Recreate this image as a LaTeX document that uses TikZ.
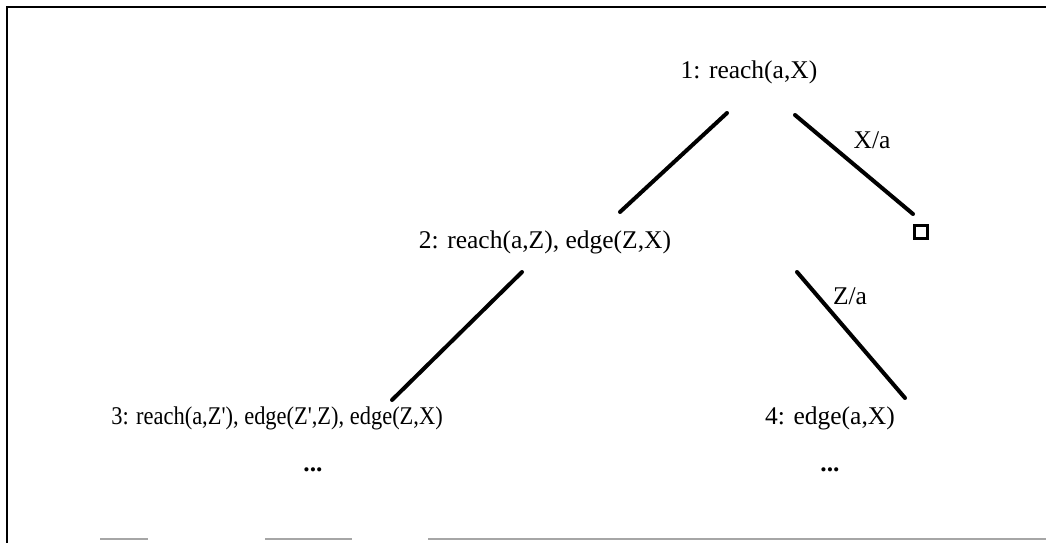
\documentclass[tikz,border=0pt]{standalone}
\usepackage{fontspec}
\setmainfont{Liberation Serif}
\begin{document}
\begin{tikzpicture}[x=1pt,y=-1pt,
  lbl/.style={inner sep=0pt,anchor=center,font=\fontsize{25.5}{30}\selectfont},
  branch/.style={line width=4pt,line cap=round},
  frame/.style={line width=2.8pt}]
\useasboundingbox (0,0) rectangle (1046,543);
% frame
\coordinate (ftr) at (1046,7);
\coordinate (ftl) at (7,7);
\coordinate (fbl) at (7,543);
\draw[frame] (ftr) -- (ftl) -- (fbl);
\coordinate (b1) at (100,539); \coordinate (b2) at (148,539);
\coordinate (b3) at (265,539); \coordinate (b4) at (352,539);
\coordinate (b5) at (428,539); \coordinate (b6) at (1046,539);
\draw[gray!70,line width=1.5pt] (b1) -- (b2) (b3) -- (b4) (b5) -- (b6);
% nodes
\node[lbl] (n1) at (749,72) {1: reach(a,X)};
\node[lbl] (n2) at (545,242) {2: reach(a,Z), edge(Z,X)};
\node[lbl] (n3) at (277,418) {\scalebox{0.88}[1]{3: reach(a,Z\textquotesingle), edge(Z\textquotesingle,Z), edge(Z,X)}};
\node[lbl] (n4) at (830,418) {4: edge(a,X)};
\node[lbl] (d3) at (313,470) {\textbf{...}};
\node[lbl] (d4) at (830,470) {\textbf{...}};
\node[draw,line width=3pt,minimum size=13pt,inner sep=0pt] (sq) at (921,232) {};
\node[lbl] (lx) at (872,140) {X/a};
\node[lbl] (lz) at (850,296) {Z/a};
% branch ends
\coordinate (a1) at (727,113); \coordinate (a2) at (620,212);
\coordinate (c1) at (795,115); \coordinate (c2) at (913,214);
\coordinate (e1) at (522,272); \coordinate (e2) at (392,400);
\coordinate (g1) at (797,272); \coordinate (g2) at (905,398);
\draw[branch] (a1) -- (a2);
\draw[branch] (c1) -- (c2);
\draw[branch] (e1) -- (e2);
\draw[branch] (g1) -- (g2);
\end{tikzpicture}
\end{document}
